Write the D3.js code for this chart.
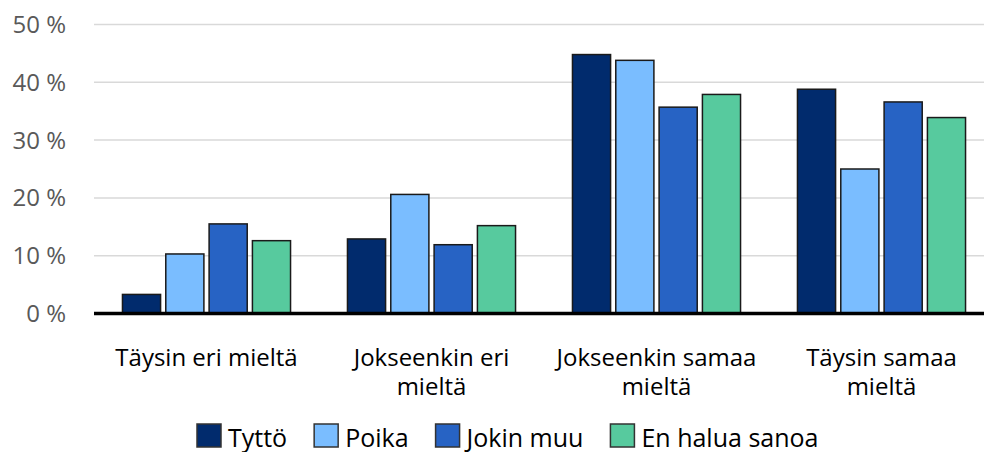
<!DOCTYPE html>
<html>
<head>
<meta charset="utf-8">
<script src="https://cdn.jsdelivr.net/npm/d3@7"></script>
<style>
  body { margin: 0; background: #fff; }
  text { font-family: "Open Sans", sans-serif; }
</style>
</head>
<body>
<div id="chart"></div>
<script>
// answer categories (x axis) and respondent groups (series)
const categories = ["Täysin eri mieltä", "Jokseenkin eri mieltä", "Jokseenkin samaa mieltä", "Täysin samaa mieltä"];
const categoryLines = [["Täysin eri mieltä"], ["Jokseenkin eri", "mieltä"], ["Jokseenkin samaa", "mieltä"], ["Täysin samaa", "mieltä"]];
const seriesNames = ["Tyttö", "Poika", "Jokin muu", "En halua sanoa"];
const seriesColors = ["#012b6d", "#7abdff", "#2763c4", "#57ca9e"];

// values in percent, one array per series
const tytto = [3.3, 12.9, 44.8, 38.8];
const poika = [10.3, 20.6, 43.8, 25.0];
const jokinMuu = [15.5, 11.9, 35.7, 36.6];
const enHalua = [12.6, 15.2, 37.9, 33.9];
const yTicks = [0, 10, 20, 30, 40, 50];

const seriesValues = [tytto, poika, jokinMuu, enHalua];

const width = 984, height = 452;
const plotLeft = 94, plotRight = 994, plotTop = 24.5, plotBottom = 313.5;

const svg = d3.select("#chart").append("svg")
  .attr("width", width)
  .attr("height", height);

const y = d3.scaleLinear().domain([0, 50]).range([plotBottom, plotTop]);

const x = d3.scaleBand()
  .domain(categories)
  .range([plotLeft, plotRight])
  .paddingInner(0.253)
  .paddingOuter(0.1265);

const xInner = d3.scaleBand()
  .domain(seriesNames)
  .range([0, x.bandwidth()])
  .paddingInner(0.12)
  .paddingOuter(0);

// gridlines
svg.append("g")
  .selectAll("line")
  .data(yTicks.filter(d => d > 0))
  .join("line")
  .attr("x1", plotLeft)
  .attr("x2", width)
  .attr("y1", d => y(d))
  .attr("y2", d => y(d))
  .attr("stroke", "#d9d9d9")
  .attr("stroke-width", 1.5);

// y tick labels
svg.append("g")
  .selectAll("text")
  .data(yTicks)
  .join("text")
  .attr("x", 66)
  .attr("y", d => y(d))
  .attr("dy", "0.35em")
  .attr("text-anchor", "end")
  .attr("fill", "#595959")
  .style("font-size", "24px")
  .text(d => d + " %");

// bars
const groups = svg.append("g")
  .selectAll("g")
  .data(categories)
  .join("g")
  .attr("transform", d => `translate(${x(d)},0)`);

groups.selectAll("rect")
  .data((c, ci) => seriesNames.map((s, si) => ({ s, si, v: seriesValues[si][ci] })))
  .join("rect")
  .attr("x", d => xInner(d.s))
  .attr("y", d => y(d.v))
  .attr("width", xInner.bandwidth())
  .attr("height", d => y(0) - y(d.v))
  .attr("fill", d => seriesColors[d.si])
  .attr("stroke", "#1a1a1a")
  .attr("stroke-width", 1.5);

// baseline
svg.append("line")
  .attr("x1", plotLeft)
  .attr("x2", width)
  .attr("y1", y(0))
  .attr("y2", y(0))
  .attr("stroke", "#000")
  .attr("stroke-width", 3.5);

// category labels, wrapped lines
const catLabels = svg.append("g")
  .selectAll("text")
  .data(categories)
  .join("text")
  .attr("x", d => x(d) + x.bandwidth() / 2)
  .attr("y", 366)
  .attr("text-anchor", "middle")
  .attr("fill", "#000")
  .style("font-size", "24px");

catLabels.selectAll("tspan")
  .data((d, i) => categoryLines[i])
  .join("tspan")
  .attr("x", function () { return d3.select(this.parentNode).attr("x"); })
  .attr("dy", (d, i) => i === 0 ? 0 : 29)
  .text(d => d);

// legend
const legend = svg.append("g");
let lx = 197;
seriesNames.forEach((name, i) => {
  legend.append("rect")
    .attr("x", lx)
    .attr("y", 424)
    .attr("width", 24)
    .attr("height", 23)
    .attr("fill", seriesColors[i])
    .attr("stroke", "#333")
    .attr("stroke-width", 1.5);
  const t = legend.append("text")
    .attr("x", lx + 31)
    .attr("y", 446.5)
    .attr("fill", "#000")
    .style("font-size", "25px")
    .text(name);
  lx += 31 + t.node().getComputedTextLength() + 27;
});
</script>
</body>
</html>
